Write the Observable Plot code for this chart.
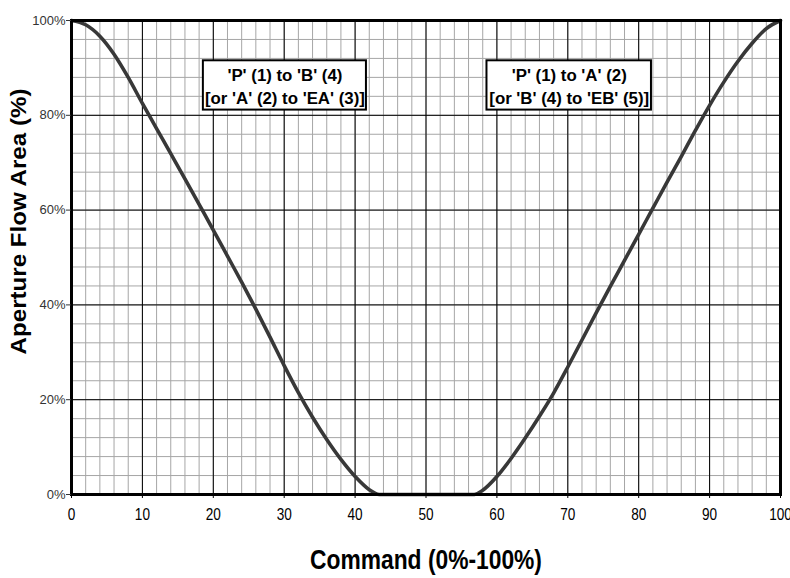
<!DOCTYPE html>
<html><head><meta charset="utf-8">
<script src="https://cdn.jsdelivr.net/npm/d3@7"></script>
<script src="https://cdn.jsdelivr.net/npm/@observablehq/plot@0.6"></script>
<style>body{margin:0;background:#fff}</style>
</head><body><div id="chart"></div>
<script>
// Left curve: 'P' (1) to 'B' (4)
const cmdLeft  = [0, 2, 4, 6, 8, 10, 12, 14, 16, 18, 20, 22, 24, 26, 28, 30, 32, 34, 36, 38, 40, 42, 43.4];
const areaLeft = [100, 99.1, 96.7, 92.9, 88.0, 82.5, 77.2, 71.9, 66.6, 61.2, 55.8, 50.3, 44.8, 39.1, 33.2, 27.2, 21.5, 16.3, 11.6, 7.4, 3.8, 1.0, 0];
// Right curve: 'P' (1) to 'A' (2)
const cmdRight  = [56.8, 58, 60, 62, 64, 66, 68, 70, 72, 74, 76, 78, 80, 82, 84, 86, 88, 90, 92, 94, 96, 98, 100];
const areaRight = [0, 0.9, 3.8, 7.6, 11.9, 16.5, 21.4, 26.9, 32.6, 38.3, 43.9, 49.4, 54.9, 60.4, 65.9, 71.3, 76.8, 82.1, 87.0, 91.4, 95.2, 98.3, 100];

const xTicks = [0, 10, 20, 30, 40, 50, 60, 70, 80, 90, 100];
const yTicks = [0, 20, 40, 60, 80, 100];
const xMinor = [0,2,4,6,8,10,12,14,16,18,20,22,24,26,28,30,32,34,36,38,40,42,44,46,48,50,52,54,56,58,60,62,64,66,68,70,72,74,76,78,80,82,84,86,88,90,92,94,96,98,100];
const yMinor = [0,4,8,12,16,20,24,28,32,36,40,44,48,52,56,60,64,68,72,76,80,84,88,92,96,100];

const noteText = ["'P' (1) to 'B' (4)\n[or 'A' (2) to 'EA' (3)]", "'P' (1) to 'A' (2)\n[or 'B' (4) to 'EB' (5)]"];
const noteX1 = [18.6, 58.6];
const noteX2 = [41.6, 81.8];
const noteY1 = [81.1, 81.1];
const noteY2 = [91.5, 91.5];

const xLabel = "Command (0%-100%)";
const yLabel = "Aperture Flow Area (%)";

const curveData = cmdLeft.map((c, i) => ({cmd: c, area: areaLeft[i]}))
  .concat(cmdRight.map((c, i) => ({cmd: c, area: areaRight[i]})));
const notes = noteText.map((t, i) => ({label: t, x1: noteX1[i], x2: noteX2[i], y1: noteY1[i], y2: noteY2[i]}));

const arial = "'Liberation Sans', Arial, sans-serif";

const chart = Plot.plot({
  width: 790, height: 578,
  marginLeft: 71, marginRight: 10, marginTop: 20, marginBottom: 84,
  x: {domain: [0, 100]},
  y: {domain: [0, 100]},
  style: {background: "#fff", overflow: "visible"},
  marks: [
    Plot.ruleX(xMinor, {stroke: "#a6a6a6", strokeWidth: 1}),
    Plot.ruleY(yMinor, {stroke: "#a6a6a6", strokeWidth: 1}),
    Plot.ruleX(xTicks, {stroke: "#000", strokeWidth: 1}),
    Plot.ruleY(yTicks, {stroke: "#000", strokeWidth: 1}),
    Plot.rect(notes, {x1: "x1", x2: "x2", y1: "y1", y2: "y2", fill: "#fff", stroke: "#000", strokeWidth: 2}),
    Plot.text(notes, {x: d => (d.x1 + d.x2) / 2, y: d => (d.y1 + d.y2) / 2, text: "label",
      lineHeight: 1.4, fontSize: 16, fontWeight: "bold", fontFamily: arial, fill: "#000"}),
    Plot.line(curveData, {x: "cmd", y: "area", curve: "monotone-x", stroke: "#383838", strokeWidth: 3.6}),
    Plot.frame({stroke: "#000", strokeWidth: 3}),
    Plot.axisX({ticks: xTicks, tickSize: 4, tickPadding: 9, fontSize: 17, label: null, fontFamily: arial, color: "#000"}),
    Plot.axisY({ticks: yTicks, tickSize: 5, tickPadding: 1, tickFormat: d => d + "%", label: null, fontSize: 13, fontFamily: arial, color: "#333"}),
    Plot.text([xLabel], {text: d => d, frameAnchor: "bottom", dy: 74, fontSize: 27, fontWeight: "bold", fontFamily: arial, fill: "#000"}),
    Plot.text([yLabel], {text: d => d, frameAnchor: "left", textAnchor: "middle", dx: -53, dy: -36, rotate: -90, fontSize: 22, fontWeight: "bold", fontFamily: arial, fill: "#000"})
  ]
});

document.getElementById("chart").appendChild(chart);

// narrow (condensed) look of the reference's texts: squeeze each text along its own direction
function squeeze(el, s) {
  let t = el.getAttribute("transform");
  if (!t) {
    const x = +el.getAttribute("x") || 0, y = +el.getAttribute("y") || 0;
    el.removeAttribute("x"); el.removeAttribute("y");
    t = `translate(${x},${y})`;
  }
  el.setAttribute("transform", t + ` scale(${s},1)`);
}
function fitTo(el, w) {
  const bw = el.getBBox().width;
  if (bw > 0) squeeze(el, w / bw);
}
chart.querySelectorAll("text").forEach(el => {
  const s = el.textContent;
  if (/^\d+$/.test(s)) squeeze(el, 0.8);
  else if (s.startsWith("'P'")) fitTo(el, 160);
  else if (s === xLabel) fitTo(el, 232);
  else if (s === yLabel) fitTo(el, 266);
});
</script>
</body></html>
